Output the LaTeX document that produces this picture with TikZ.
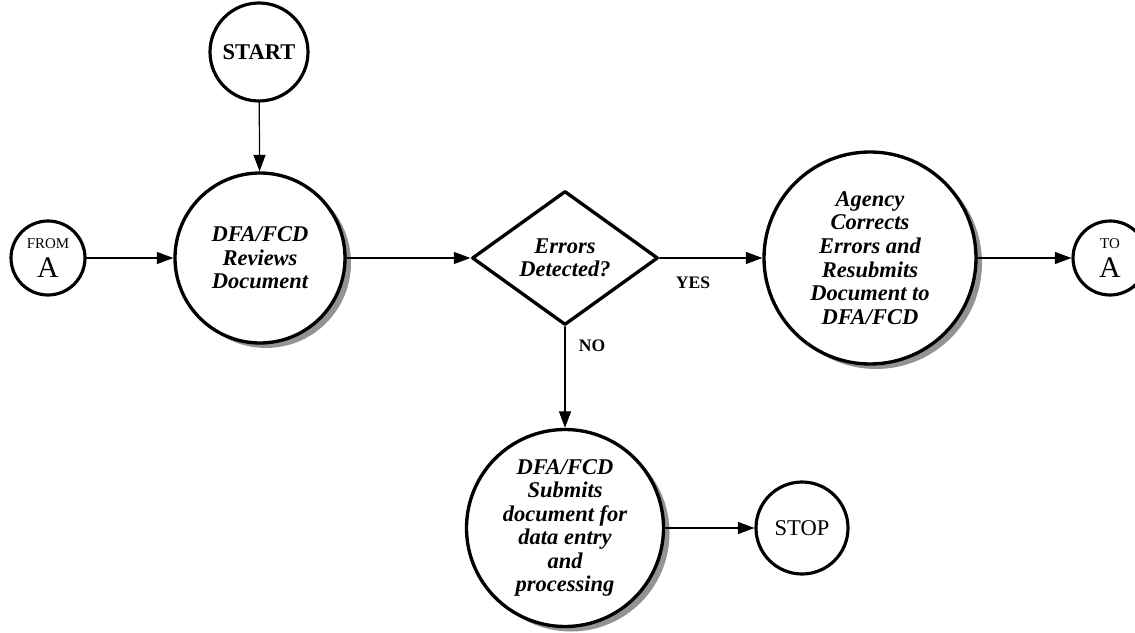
\documentclass[tikz,border=0pt]{standalone}
\usepackage{fontspec}
\setmainfont{Liberation Serif}
\usepackage{tikz}
\usetikzlibrary{arrows.meta,positioning,shapes.geometric,shadows}
\definecolor{ink}{HTML}{000000}
\definecolor{shade}{HTML}{939393}
\newcommand{\procfont}{\fontsize{12.8pt}{13.4pt}\selectfont\bfseries\itshape}
\newcommand{\tagfont}{\fontsize{8.5pt}{9pt}\selectfont}
\tikzset{
    every picture/.style={line cap=round,line join=round},
    procnode/.style={draw=ink,circle,fill=white,line width=1.9pt,inner sep=0pt,
      font=\procfont,align=center,
      drop shadow={shadow xshift=1.2mm,shadow yshift=-1mm,fill=shade,opacity=1}},
    termnode/.style={draw=ink,circle,fill=white,line width=1.8pt,inner sep=0pt,
      align=center},
    connnode/.style={draw=ink,circle,fill=white,line width=1.8pt,inner sep=0pt,
      minimum size=14.8mm,align=center,font=\fontsize{17pt}{16pt}\selectfont},
    decnode/.style={draw=ink,diamond,fill=white,line width=1.9pt,inner sep=0pt,
      minimum width=37.2mm,minimum height=26.8mm,font=\procfont,align=center},
    flowarrow/.style={-{Triangle[length=3.3mm,width=2.4mm]},draw=ink,
      line width=0.7pt},
    edgelabel/.style={text=ink,font=\fontsize{10pt}{10pt}\selectfont\bfseries}
}
\begin{document}
\begin{tikzpicture}
    \useasboundingbox (0,0) rectangle (22.7,12.64);
    \node[termnode,minimum size=19.6mm,font=\fontsize{12.8pt}{13pt}\selectfont\bfseries] (start) at (5.18,11.6) {START};
    \node[procnode,minimum size=34mm] (review) at (5.2,7.48) {DFA/FCD\\Reviews\\Document};
    \node[connnode] (froma) at (0.96,7.48) {{\tagfont FROM}\\A};
    \node[decnode] (errors) at (11.3,7.48) {Errors\\Detected?};
    \node[procnode,minimum size=42.4mm] (agency) at (17.4,7.48) {Agency\\Corrects\\Errors and\\Resubmits\\Document to\\DFA/FCD};
    \node[connnode] (toa) at (22.2,7.48) {{\tagfont TO}\\A};
    \node[procnode,minimum size=39.4mm] (submit) at (11.3,2.08) {DFA/FCD\\Submits\\document for\\data entry\\and\\processing};
    \node[termnode,minimum size=18.4mm,font=\fontsize{12.8pt}{13pt}\selectfont] (stop) at (16.04,2.08) {STOP};
    \node[edgelabel] (yes) at (13.86,6.98) {YES};
    \node[edgelabel] (no) at (11.84,5.72) {NO};
    \draw[flowarrow] (start)--(review);
    \draw[flowarrow] (froma)--(review);
    \draw[flowarrow] (review)--(errors);
    \draw[flowarrow] (errors)--(agency);
    \draw[flowarrow] (agency)--(toa);
    \draw[flowarrow] (errors)--(submit);
    \draw[flowarrow] (submit)--(stop);
\end{tikzpicture}
\end{document}
